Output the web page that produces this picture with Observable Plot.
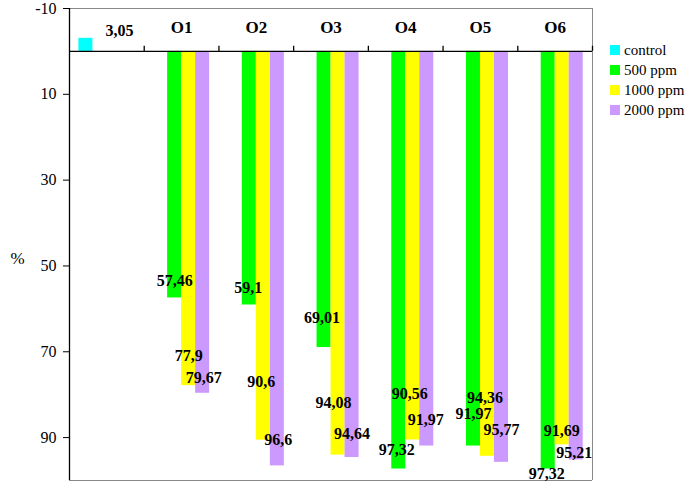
<!DOCTYPE html>
<html><head><meta charset="utf-8">
<script src="https://cdn.jsdelivr.net/npm/d3@7"></script>
<script src="https://cdn.jsdelivr.net/npm/@observablehq/plot@0.6"></script>
<style>
body{margin:0;background:#fff;}
#wrap{position:relative;width:685px;height:483px;font-family:"Liberation Serif",serif;}
#legend{position:absolute;left:610px;top:40px;font-size:15px;color:#000;}
.row{display:flex;align-items:center;height:20px;white-space:nowrap;}
.sw{width:10px;height:10px;margin-right:4px;}
</style>
</head><body><div id="wrap"></div>
<script>
// ---- data ----
const groups = ["control", "O1", "O2", "O3", "O4", "O5", "O6"];
const series = ["control", "500 ppm", "1000 ppm", "2000 ppm"];
const colors = ["#00FFFF", "#00FF00", "#FFFF00", "#CC99FF"];
const controlValue = -3.05;           // drawn above the zero line, labelled 3,05
const v500  = [57.46, 59.1, 69.01, 97.32, 91.97, 97.32];
const v1000 = [77.9, 90.6, 94.08, 90.56, 94.36, 91.69];
const v2000 = [79.67, 96.6, 94.64, 91.97, 95.77, 95.21];
const yTicks = [-10, 10, 30, 50, 70, 90];

// ---- layout (label nudges in px: [dx, dy]) ----
const nudge = {
  "control|control": [33.5, -7],
  "O1|500 ppm": [0, -17.5], "O1|1000 ppm": [0, -30], "O1|2000 ppm": [1, -15],
  "O2|500 ppm": [-1, -17.5], "O2|1000 ppm": [-2, -58], "O2|2000 ppm": [1, -26],
  "O3|500 ppm": [-2, -30], "O3|1000 ppm": [-4.5, -52], "O3|2000 ppm": [0, -24],
  "O4|500 ppm": [-2, -19.5], "O4|1000 ppm": [-3, -46.5], "O4|2000 ppm": [-1, -26.5],
  "O5|500 ppm": [0, -32.5], "O5|1000 ppm": [-2.5, -58.5], "O5|2000 ppm": [0, -32.5],
  "O6|500 ppm": [-1.5, 4.5], "O6|1000 ppm": [-0.5, -14], "O6|2000 ppm": [-2, -7]
};
const pad = 0.126, sw = 0.1874;

const rows = [{group: "control", series: "control", value: controlValue}];
groups.slice(1).forEach((g, i) => {
  rows.push({group: g, series: "500 ppm", value: v500[i]});
  rows.push({group: g, series: "1000 ppm", value: v1000[i]});
  rows.push({group: g, series: "2000 ppm", value: v2000[i]});
});
const gi = d => groups.indexOf(d.group);
const si = d => series.indexOf(d.series);
const x1 = d => gi(d) + pad + si(d) * sw;
const fmt = v => String(Math.abs(v)).replace(".", ",");

const labelMarks = rows.map(d => {
  const [dx, dy] = nudge[d.group + "|" + d.series];
  return Plot.text([d], {
    x: d => x1(d) + sw / 2, y: "value", text: d => fmt(d.value),
    dx, dy, fontWeight: "bold", fontSize: 16, fill: "black"
  });
});

const chart = Plot.plot({
  width: 685, height: 483,
  marginLeft: 69, marginRight: 93, marginTop: 8, marginBottom: 3,
  style: {fontFamily: "Liberation Serif", fontSize: "16px", color: "black", background: "white"},
  x: {type: "linear", domain: [0, groups.length], axis: null},
  y: {domain: [-10, 100], reverse: true},
  color: {domain: series, range: colors},
  marks: [
    Plot.ruleY([-10, 100], {stroke: "#888"}),
    Plot.ruleX([groups.length], {stroke: "#888"}),
    Plot.rect(rows, {x1, x2: d => x1(d) + sw, y1: 0, y2: "value", fill: "series"}),
    Plot.ruleY([0], {stroke: "black", strokeWidth: 1.3}),
    Plot.ruleX([0], {stroke: "black", strokeWidth: 1.3}),
    Plot.ruleX(d3.range(1, groups.length + 1), {x: d => d, y1: 0, y2: -1.2, stroke: "black", strokeWidth: 1.3}),
    Plot.axisY(yTicks, {tickSize: 6, tickPadding: 7, label: null, fontSize: 16, tickFormat: d => String(d)}),
    Plot.text(groups.slice(1), {x: d => groups.indexOf(d) + 0.5, y: -10, dy: 19, fontWeight: "bold", fontSize: 17}),
    Plot.text(["%"], {frameAnchor: "left", dx: -59, dy: 14, fontSize: 17}),
    ...labelMarks
  ]
});

const wrap = document.getElementById("wrap");
wrap.appendChild(chart);
const legend = document.createElement("div");
legend.id = "legend";
series.forEach((s, i) => {
  const r = document.createElement("div"); r.className = "row";
  const b = document.createElement("span"); b.className = "sw"; b.style.background = colors[i];
  const t = document.createElement("span"); t.textContent = s;
  r.appendChild(b); r.appendChild(t); legend.appendChild(r);
});
wrap.appendChild(legend);
</script>
</body></html>
